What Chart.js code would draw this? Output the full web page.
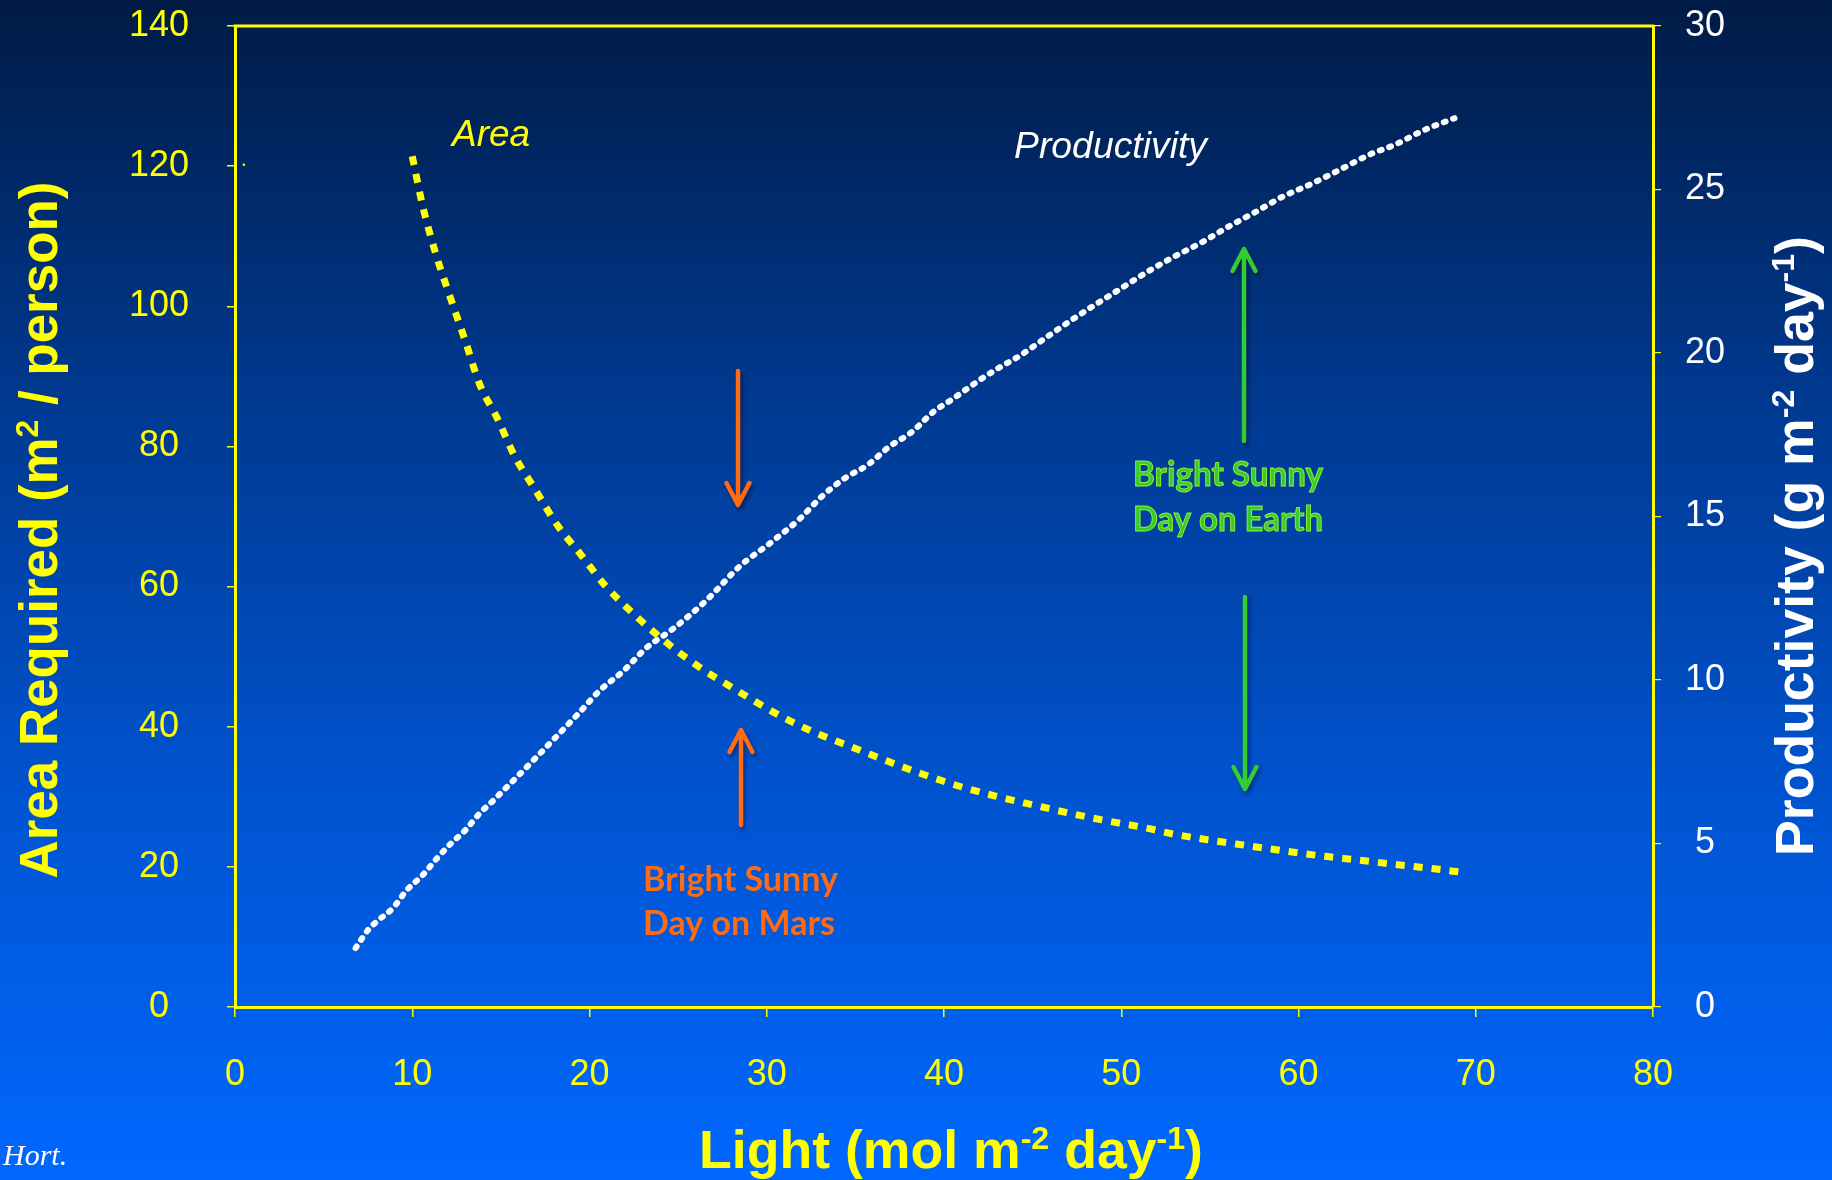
<!DOCTYPE html>
<html><head><meta charset="utf-8">
<script src="https://cdn.jsdelivr.net/npm/chart.js@4.4.1/dist/chart.umd.min.js"></script>
<style>html,body{margin:0;padding:0;background:#0066ff;overflow:hidden}canvas{display:block}</style>
</head><body>
<canvas id="c" width="1832" height="1180"></canvas>
<script>
// ---- data ----
const lightArea = [10.0, 10.6, 11.3, 12.1, 13.0, 13.8, 14.8, 15.8, 16.9, 18.2, 19.5, 20.9, 22.7, 24.4, 26.2, 28.1, 30.8, 32.6, 34.8, 36.7, 38.6, 41.0, 42.9, 45.1, 47.0, 48.9, 51.3, 53.1, 55.3, 57.2, 59.1, 61.5, 63.3, 65.6, 67.4, 69.3];
const areaRequired = [121.4, 114.2, 107.7, 101.6, 95.0, 88.9, 84.0, 78.5, 74.0, 68.7, 64.6, 60.1, 55.6, 51.9, 48.5, 45.5, 41.5, 39.3, 37.1, 35.2, 33.4, 31.4, 30.1, 28.8, 27.7, 26.7, 25.6, 24.6, 23.7, 23.0, 22.3, 21.5, 21.0, 20.3, 19.8, 19.2];
const lightProd = [6.8, 7.5, 8.1, 8.9, 9.7, 10.6, 11.4, 12.2, 13.0, 13.8, 14.6, 19.3, 20.6, 21.9, 23.2, 24.7, 26.6, 28.5, 30.2, 31.9, 33.1, 34.4, 35.7, 36.9, 38.2, 39.4, 40.4, 42.0, 43.2, 44.2, 45.7, 47.2, 48.8, 50.0, 51.5, 53.0, 54.6, 56.1, 57.6, 59.1, 60.6, 62.1, 64.1, 65.4, 67.1, 68.8];
const productivity = [1.80, 2.35, 2.66, 3.02, 3.58, 4.04, 4.55, 5.01, 5.41, 5.92, 6.33, 8.93, 9.69, 10.27, 10.98, 11.56, 12.44, 13.49, 14.19, 14.95, 15.61, 16.17, 16.58, 17.13, 17.59, 18.20, 18.56, 19.17, 19.58, 19.89, 20.45, 21.01, 21.57, 21.98, 22.49, 22.95, 23.40, 23.88, 24.32, 24.78, 25.14, 25.54, 26.09, 26.36, 26.82, 27.18];
const strayLight = [0.5];
const strayArea = [120.2];
const xTickValues = [0, 10, 20, 30, 40, 50, 60, 70, 80];
const areaTickValues = [0, 20, 40, 60, 80, 100, 120, 140];
const prodTickValues = [0, 5, 10, 15, 20, 25, 30];
const xTitle = [['Light (mol m', 0], ['-2', 1], [' day', 0], ['-1', 1], [')', 0]];
const leftTitle = [['Area Required (m', 0], ['2', 1], [' / person)', 0]];
const rightTitle = [['Productivity (g m', 0], ['-2', 1], [' day', 0], ['-1', 1], [')', 0]];
const areaLabel = 'Area';
const prodLabel = 'Productivity';
const earthLines = ['Bright Sunny', 'Day on Earth'];
const marsLines = ['Bright Sunny', 'Day on Mars'];
const sourceNote = 'Hort.';

const SANS = '"Liberation Sans", Arial, Helvetica, sans-serif';
const YELLOW = '#ffff00';
const ORANGE = '#ff6a13';
const GREEN = '#33cc33';

function richWidth(ctx, segs, size) {
  let w = 0;
  for (const [t, sup] of segs) {
    ctx.font = `bold ${sup ? size * 0.6 : size}px ${SANS}`;
    w += ctx.measureText(t).width;
  }
  return w;
}
function drawRich(ctx, segs, target, cx, baseY, color) {
  const size = 54 * target / richWidth(ctx, segs, 54);
  const w = richWidth(ctx, segs, size);
  let x = cx - w / 2;
  ctx.fillStyle = color;
  ctx.textAlign = 'left';
  ctx.textBaseline = 'alphabetic';
  for (const [t, sup] of segs) {
    ctx.font = `bold ${sup ? size * 0.6 : size}px ${SANS}`;
    ctx.fillText(t, x, sup ? baseY - size * 0.36 : baseY);
    x += ctx.measureText(t).width;
  }
}
function drawFit(ctx, text, x, y, font, targetW, color, stroke) {
  ctx.font = font;
  ctx.textAlign = 'left';
  ctx.textBaseline = 'alphabetic';
  const w = ctx.measureText(text).width;
  ctx.save();
  ctx.translate(x, y);
  ctx.scale(targetW / w, 1);
  ctx.fillStyle = color;
  ctx.fillText(text, 0, 0);
  if (stroke) { ctx.strokeStyle = stroke; ctx.lineWidth = 1; ctx.strokeText(text, 0, 0); }
  ctx.restore();
}
function arrow(ctx, x, yStart, yTip, color) {
  ctx.save();
  ctx.shadowColor = 'rgba(0,0,30,0.45)';
  ctx.shadowBlur = 4; ctx.shadowOffsetX = 2; ctx.shadowOffsetY = 3;
  ctx.strokeStyle = color; ctx.lineWidth = 4.5; ctx.lineCap = 'round'; ctx.lineJoin = 'round';
  const dir = yTip > yStart ? 1 : -1;
  ctx.beginPath();
  ctx.moveTo(x, yStart); ctx.lineTo(x, yTip);
  ctx.moveTo(x - 11.5, yTip - dir * 22); ctx.lineTo(x, yTip); ctx.lineTo(x + 11.5, yTip - dir * 22);
  ctx.stroke();
  ctx.restore();
}

const bgPlugin = {
  id: 'bg',
  beforeDraw(chart) {
    const ctx = chart.ctx;
    const g = ctx.createLinearGradient(0, 0, 0, chart.height);
    g.addColorStop(0, '#001b45');
    g.addColorStop(0.3, '#003688');
    g.addColorStop(0.65, '#0052cc');
    g.addColorStop(1, '#0068ff');
    ctx.save();
    ctx.fillStyle = g;
    ctx.fillRect(0, 0, chart.width, chart.height);
    ctx.restore();
  }
};

const decoPlugin = {
  id: 'deco',
  afterDraw(chart) {
    const ctx = chart.ctx;
    const a = chart.chartArea;
    ctx.save();
    // top frame line
    ctx.strokeStyle = YELLOW; ctx.lineWidth = 3;
    ctx.beginPath(); ctx.moveTo(a.left - 1.5, a.top); ctx.lineTo(a.right + 1.5, a.top); ctx.stroke();

    // axis titles
    drawRich(ctx, xTitle, 504, 951, 1168, YELLOW);
    ctx.save(); ctx.translate(57, 530); ctx.rotate(-Math.PI / 2);
    drawRich(ctx, leftTitle, 697, 0, 0, YELLOW); ctx.restore();
    ctx.save(); ctx.translate(1813, 546); ctx.rotate(-Math.PI / 2);
    drawRich(ctx, rightTitle, 620, 0, 0, '#ffffff'); ctx.restore();

    // curve labels
    drawFit(ctx, areaLabel, 452, 146, `italic 37px ${SANS}`, 78, YELLOW);
    drawFit(ctx, prodLabel, 1014, 158, `italic 37px ${SANS}`, 193, '#ffffff');

    // arrows
    arrow(ctx, 738, 371, 505, ORANGE);
    arrow(ctx, 741, 825, 730, ORANGE);
    arrow(ctx, 1244, 441, 249, GREEN);
    arrow(ctx, 1245, 597, 789, GREEN);

    // annotation texts
    const lato = 'bold 35px Lato, "Open Sans", sans-serif';
    drawFit(ctx, earthLines[0], 1133, 486, lato, 190, GREEN, 'rgba(170,255,40,0.85)');
    drawFit(ctx, earthLines[1], 1133, 531, lato, 190, GREEN, 'rgba(170,255,40,0.85)');
    drawFit(ctx, marsLines[0], 643, 891, lato, 195, ORANGE);
    drawFit(ctx, marsLines[1], 643, 935, lato, 192, ORANGE);

    // source note
    ctx.font = 'italic 30px "Liberation Serif", "Times New Roman", serif';
    ctx.fillStyle = '#ffffff'; ctx.textAlign = 'left'; ctx.textBaseline = 'alphabetic';
    ctx.fillText(sourceNote, 3, 1165);
    ctx.restore();
  }
};

const noPad = s => { s.paddingTop = 0; s.paddingBottom = 0; };
const tickFont = { family: SANS, size: 36 };
new Chart(document.getElementById('c'), {
  type: 'line',
  data: {
    datasets: [
      {
        label: 'Area', yAxisID: 'y',
        data: lightArea.map((x, i) => ({ x, y: areaRequired[i] })),
        borderColor: YELLOW, borderWidth: 7, borderDash: [9, 9],
        pointRadius: 0, cubicInterpolationMode: 'monotone', fill: false
      },
      {
        label: 'Productivity', yAxisID: 'y2',
        data: lightProd.map((x, i) => ({ x, y: productivity[i] })),
        borderColor: '#ffffff', borderWidth: 6, borderDash: [2, 8], borderCapStyle: 'round',
        pointRadius: 0, cubicInterpolationMode: 'monotone', fill: false
      },
      {
        label: 'stray', yAxisID: 'y', showLine: false,
        data: strayLight.map((x, i) => ({ x, y: strayArea[i] })),
        pointStyle: 'rect', pointRadius: 1.6, backgroundColor: YELLOW, borderWidth: 0
      }
    ]
  },
  options: {
    responsive: false, animation: false,
    layout: { padding: { top: 26, left: 0, right: 0, bottom: 0 } },
    plugins: { legend: { display: false }, tooltip: { enabled: false }, title: { display: false } },
    scales: {
      x: {
        type: 'linear', min: 0, max: 80,
        afterBuildTicks: s => { s.ticks = xTickValues.map(v => ({ value: v })); },
        afterFit: s => { s.height = 173; s.paddingLeft = 0; s.paddingRight = 0; },
        grid: { drawOnChartArea: false, drawTicks: true, tickLength: 10, color: YELLOW, lineWidth: 1.5 },
        border: { display: true, color: YELLOW, width: 3 },
        ticks: { color: YELLOW, font: tickFont, padding: 36, maxRotation: 0, autoSkip: false }
      },
      y: {
        type: 'linear', position: 'left', min: 0, max: 140,
        afterBuildTicks: s => { s.ticks = areaTickValues.map(v => ({ value: v })); },
        afterFit: s => { s.width = 235; noPad(s); },
        grid: { drawOnChartArea: false, drawTicks: true, tickLength: 8, color: YELLOW, lineWidth: 1.5 },
        border: { display: true, color: YELLOW, width: 3 },
        ticks: { color: YELLOW, font: tickFont, padding: 38, crossAlign: 'center', autoSkip: false }
      },
      y2: {
        type: 'linear', position: 'right', min: 0, max: 30,
        afterBuildTicks: s => { s.ticks = prodTickValues.map(v => ({ value: v })); },
        afterFit: s => { s.width = 179; noPad(s); },
        grid: { drawOnChartArea: false, drawTicks: true, tickLength: 8, color: YELLOW, lineWidth: 1.2 },
        border: { display: true, color: YELLOW, width: 3 },
        ticks: { color: '#ffffff', font: tickFont, padding: 24, crossAlign: 'center', autoSkip: false }
      }
    }
  },
  plugins: [bgPlugin, decoPlugin]
});
</script>
</body></html>
